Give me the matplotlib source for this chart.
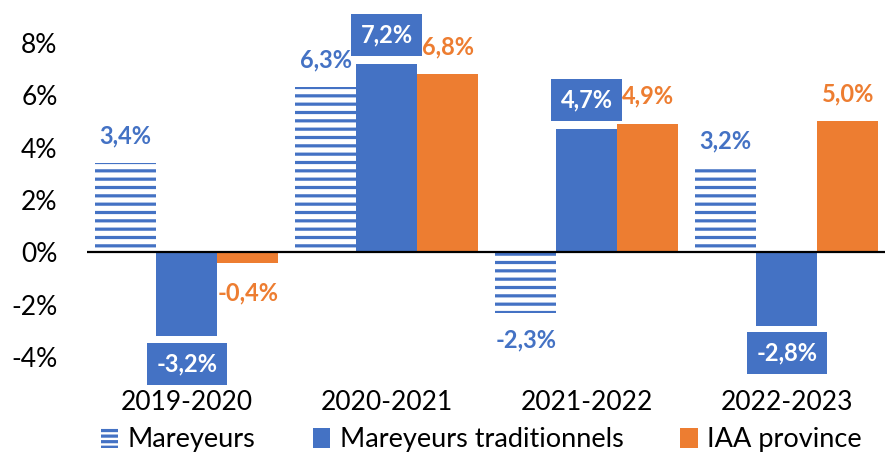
import matplotlib
matplotlib.use('Agg')
import matplotlib.pyplot as plt
import numpy as np
from matplotlib.patches import Patch

plt.rcParams['font.family'] = ['Lato', 'DejaVu Sans']
plt.rcParams['hatch.linewidth'] = 2.3

categories = ['2019-2020', '2020-2021', '2021-2022', '2022-2023']
mareyeurs = [3.4, 6.3, -2.3, 3.2]
traditionnels = [-3.2, 7.2, 4.7, -2.8]
iaa = [-0.4, 6.8, 4.9, 5.0]
yticks = [-4, -2, 0, 2, 4, 6, 8]
series_names = ['Mareyeurs', 'Mareyeurs traditionnels', 'IAA province']

blue = '#4472C4'
orange = '#ED7D31'

fig = plt.figure(figsize=(8.85, 4.54), dpi=100)
ax = fig.add_axes([0.098, 0.156, 0.904, 0.807])

x = np.arange(len(categories))
w = 0.305

ax.bar(x - w, mareyeurs, w, facecolor='white', edgecolor=blue, linewidth=0, hatch='--')
ax.bar(x, traditionnels, w, color=blue)
ax.bar(x + w, iaa, w, color=orange)

def fmt(v):
    return ('%.1f%%' % v).replace('.', ',')

lab_size = 17
for xi, v in zip(x - w, mareyeurs):
    ax.annotate(fmt(v), (xi, v), xytext=(0, 20 if v > 0 else -20), textcoords='offset points',
                ha='center', va='center', color=blue, fontsize=lab_size, fontweight='bold')
for xi, v in zip(x, traditionnels):
    ax.annotate(fmt(v), (xi, v), xytext=(0, 21 if v > 0 else -20), textcoords='offset points',
                ha='center', va='center', color='white', fontsize=lab_size, fontweight='bold',
                bbox=dict(boxstyle='square,pad=0.4', facecolor=blue, edgecolor='none'))
for xi, v in zip(x + w, iaa):
    ax.annotate(fmt(v), (xi, v), xytext=(0, 20 if v > 0 else -22), textcoords='offset points',
                ha='center', va='center', color=orange, fontsize=lab_size, fontweight='bold')

ax.axhline(0, color='black', linewidth=1.6, zorder=3)

ax.set_xlim(-0.5, 3.5)
ax.set_ylim(-5, 9)
ax.set_yticks(yticks)
ax.set_yticklabels(['%d%%' % t for t in yticks])
ax.set_xticks(x)
ax.set_xticklabels(categories)
ax.tick_params(axis='both', length=0, labelsize=19)
ax.tick_params(axis='x', pad=5)
ax.tick_params(axis='y', pad=21)
for s in ax.spines.values():
    s.set_visible(False)

handles = [Patch(facecolor='white', edgecolor=blue, linewidth=0, hatch='---'),
           Patch(facecolor=blue), Patch(facecolor=orange)]
fig.legend(handles, series_names,
           loc='center', bbox_to_anchor=(0.544, 1 - 440 / 454), ncol=3, frameon=False,
           fontsize=19.5, handlelength=0.65, handleheight=0.75, handletextpad=0.35,
           columnspacing=2.1, borderpad=0, borderaxespad=0)

fig.savefig('out.png', dpi=100)
